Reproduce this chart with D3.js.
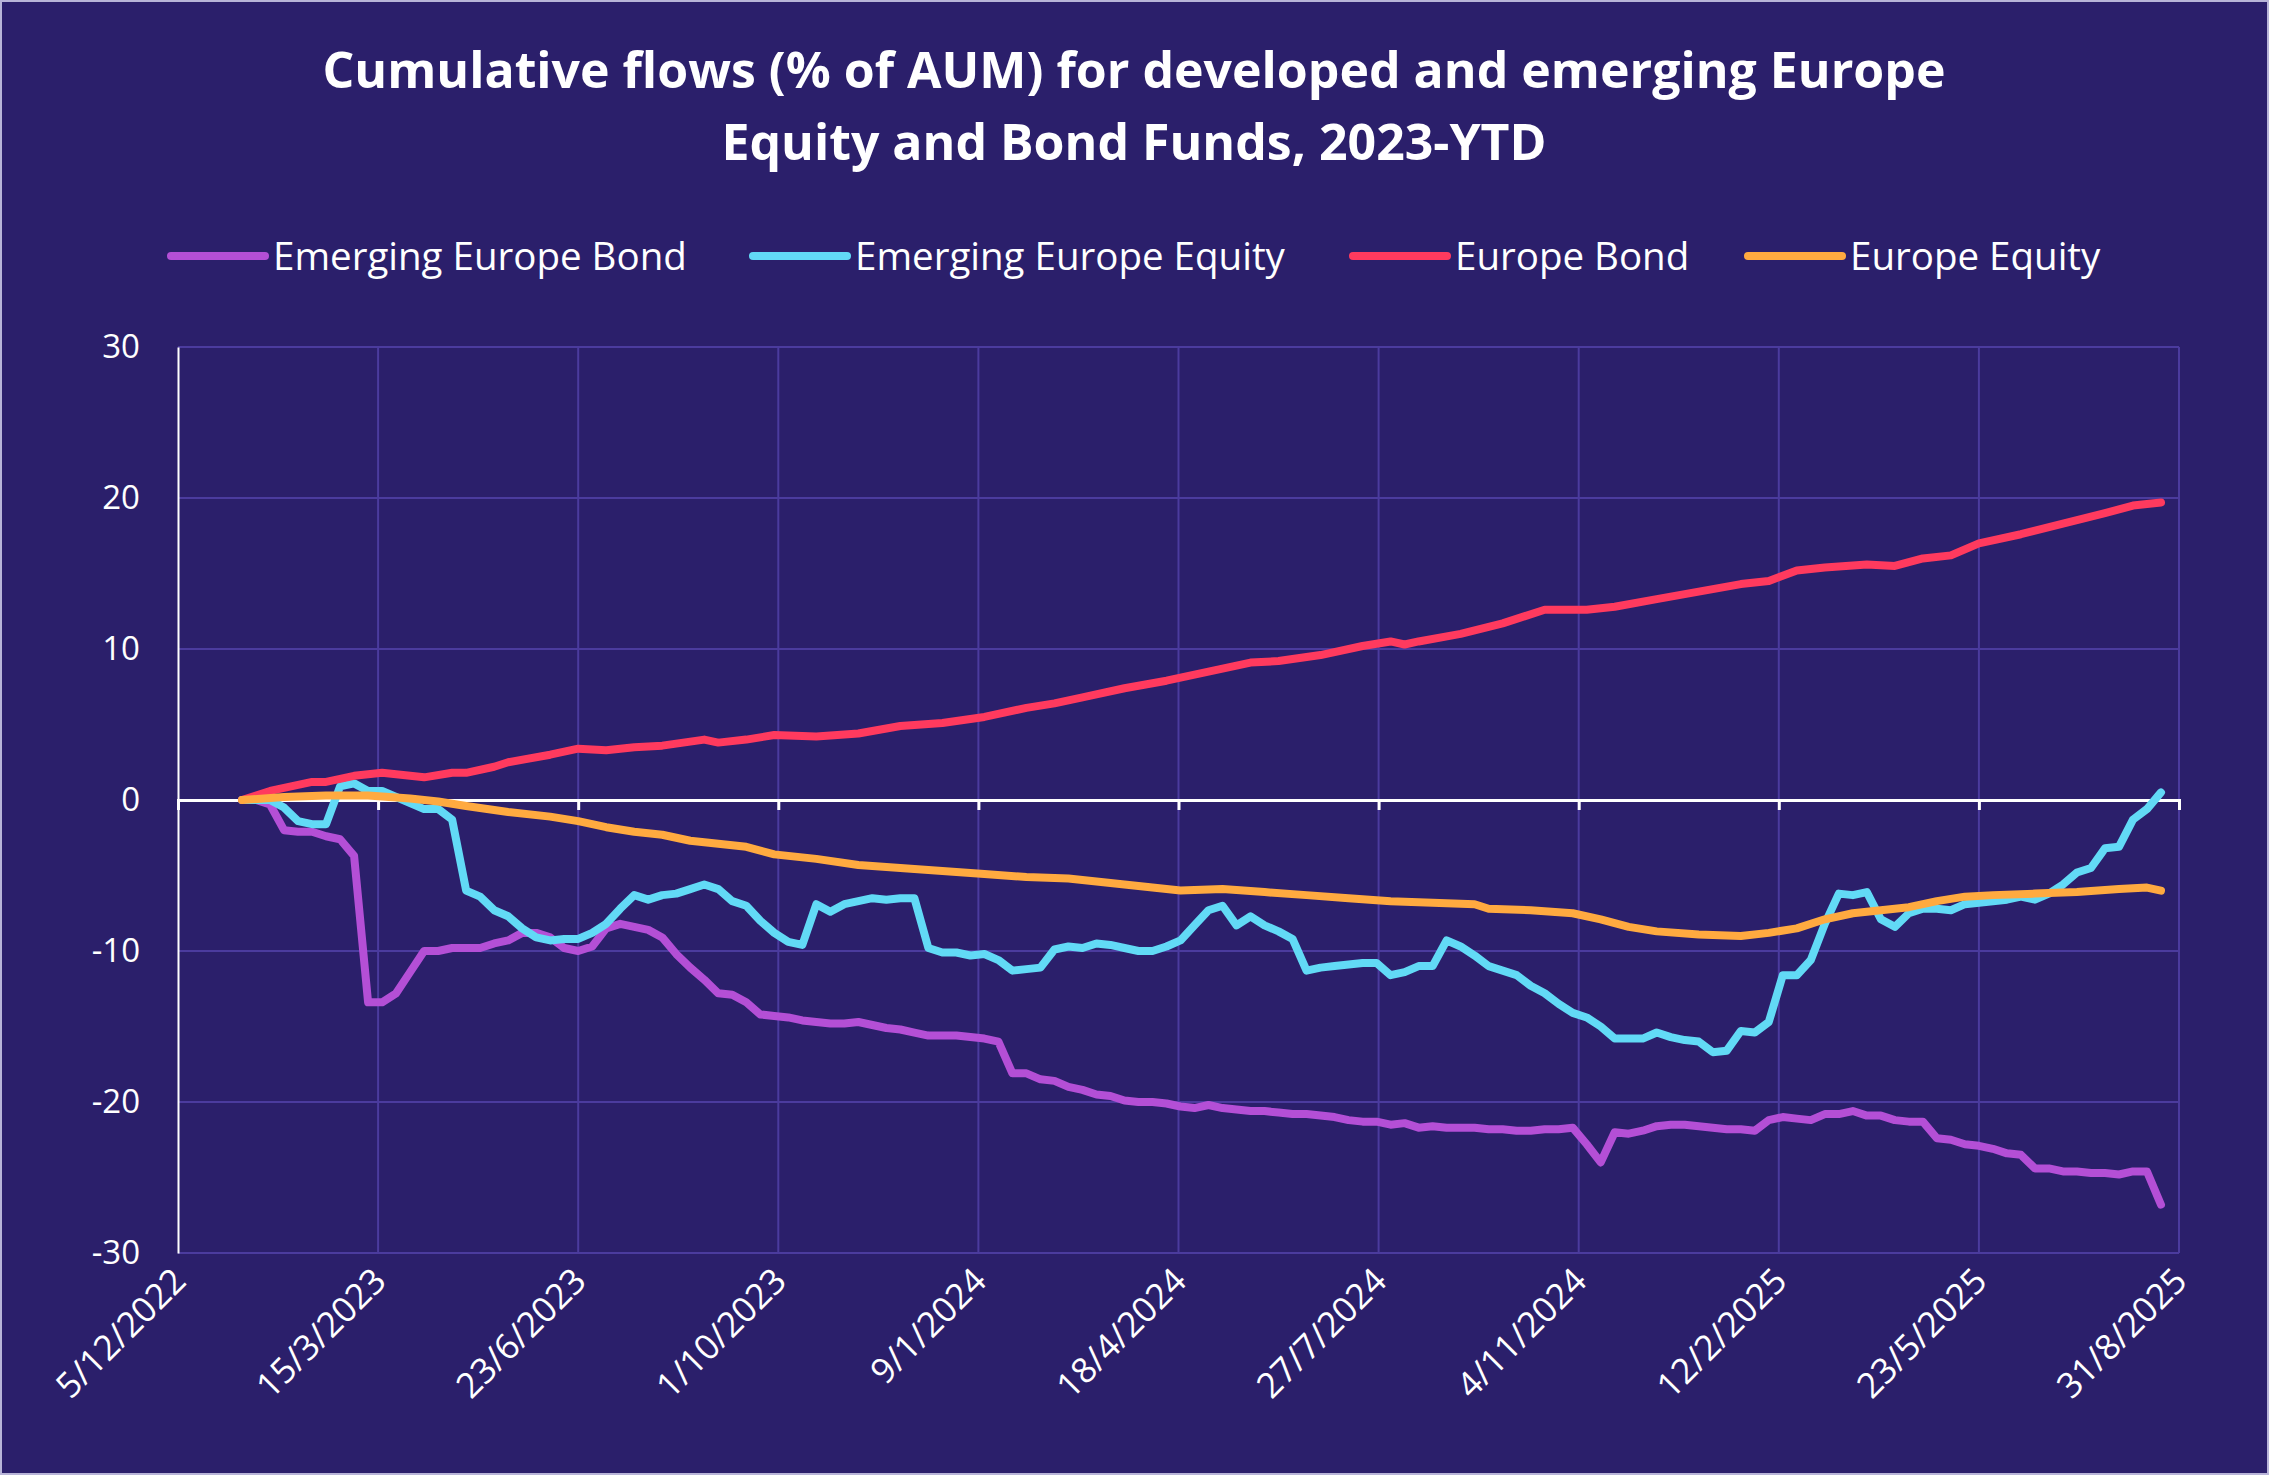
<!DOCTYPE html>
<html><head><meta charset="utf-8">
<script src="https://cdn.jsdelivr.net/npm/d3@7"></script>
<style>html,body{margin:0;padding:0;background:#2b1f6b;}svg{display:block}</style>
</head><body>
<svg id="c" width="2269" height="1475"></svg>
<script>
const seriesNames = ["Emerging Europe Bond","Emerging Europe Equity","Europe Bond","Europe Equity"];
const seriesColors = ["#b44fd6","#62daf6","#ff3a5e","#ffaa40"];
const startDate = "2023-01-06";
const xTickLabels = ["5/12/2022","15/3/2023","23/6/2023","1/10/2023","9/1/2024","18/4/2024","27/7/2024","4/11/2024","12/2/2025","23/5/2025","31/8/2025"];
const yTicks = [-30,-20,-10,0,10,20,30];

// weekly values
const emBond = [0,0,-0.3,-2,-2.1,-2.1,-2.4,-2.6,-3.7,-13.4,-13.4,-12.8,-11.4,-10,-10,-9.8,-9.8,-9.8,-9.5,-9.3,-8.8,-8.8,-9.1,-9.8,-10,-9.7,-8.5,-8.2,-8.4,-8.6,-9.1,-10.2,-11.1,-11.9,-12.8,-12.9,-13.4,-14.2,-14.3,-14.4,-14.6,-14.7,-14.8,-14.8,-14.7,-14.9,-15.1,-15.2,-15.4,-15.6,-15.6,-15.6,-15.7,-15.8,-16,-18.1,-18.1,-18.5,-18.6,-19,-19.2,-19.5,-19.6,-19.9,-20,-20,-20.1,-20.3,-20.4,-20.2,-20.4,-20.5,-20.6,-20.6,-20.7,-20.8,-20.8,-20.9,-21,-21.2,-21.3,-21.3,-21.5,-21.4,-21.7,-21.6,-21.7,-21.7,-21.7,-21.8,-21.8,-21.9,-21.9,-21.8,-21.8,-21.7,-22.8,-24,-22.0,-22.1,-21.9,-21.6,-21.5,-21.5,-21.6,-21.7,-21.8,-21.8,-21.9,-21.2,-21.0,-21.1,-21.2,-20.8,-20.8,-20.6,-20.9,-20.9,-21.2,-21.3,-21.3,-22.4,-22.5,-22.8,-22.9,-23.1,-23.4,-23.5,-24.4,-24.4,-24.6,-24.6,-24.7,-24.7,-24.8,-24.6,-24.6,-26.8];
const emEquity = [0,0,0,-0.5,-1.4,-1.6,-1.6,0.9,1.1,0.6,0.6,0.2,-0.2,-0.6,-0.6,-1.3,-6,-6.4,-7.3,-7.7,-8.5,-9.1,-9.3,-9.2,-9.2,-8.8,-8.2,-7.2,-6.3,-6.6,-6.3,-6.2,-5.9,-5.6,-5.9,-6.7,-7,-8,-8.8,-9.4,-9.6,-6.9,-7.4,-6.9,-6.7,-6.5,-6.6,-6.5,-6.5,-9.8,-10.1,-10.1,-10.3,-10.2,-10.6,-11.3,-11.2,-11.1,-9.9,-9.7,-9.8,-9.5,-9.6,-9.8,-10,-10,-9.7,-9.3,-8.3,-7.3,-7,-8.3,-7.7,-8.3,-8.7,-9.2,-11.3,-11.1,-11,-10.9,-10.8,-10.8,-11.6,-11.4,-11,-11,-9.3,-9.7,-10.3,-11,-11.3,-11.6,-12.3,-12.8,-13.5,-14.1,-14.4,-15,-15.8,-15.8,-15.8,-15.4,-15.7,-15.9,-16,-16.7,-16.6,-15.3,-15.4,-14.7,-11.6,-11.6,-10.6,-8.2,-6.2,-6.3,-6.1,-7.9,-8.4,-7.5,-7.2,-7.2,-7.3,-6.9,-6.8,-6.7,-6.6,-6.4,-6.6,-6.2,-5.6,-4.8,-4.5,-3.2,-3.1,-1.3,-0.6,0.5];
// [week index, value]
const euBond = [[0,0],[1,0.3],[2,0.6],[3,0.8],[4,1.0],[5,1.2],[6,1.2],[7,1.4],[8,1.6],[10,1.8],[12,1.6],[13,1.5],[15,1.8],[16,1.8],[18,2.2],[19,2.5],[22,3.0],[24,3.4],[26,3.3],[28,3.5],[30,3.6],[33,4.0],[34,3.8],[36,4.0],[38,4.3],[41,4.2],[44,4.4],[47,4.9],[50,5.1],[53,5.5],[56,6.1],[58,6.4],[60,6.8],[63,7.4],[66,7.9],[69,8.5],[72,9.1],[74,9.2],[77,9.6],[80,10.2],[82,10.5],[83,10.3],[84,10.5],[87,11.0],[90,11.7],[93,12.6],[96,12.6],[98,12.8],[101,13.3],[104,13.8],[107,14.3],[109,14.5],[111,15.2],[113,15.4],[116,15.6],[118,15.5],[120,16.0],[122,16.2],[124,17.0],[127,17.6],[130,18.3],[133,19.0],[135,19.5],[137,19.7]];
const euEquity = [[0,0],[3,0.2],[6,0.3],[9,0.3],[12,0.1],[14,-0.1],[16,-0.4],[19,-0.8],[22,-1.1],[24,-1.4],[26,-1.8],[28,-2.1],[30,-2.3],[32,-2.7],[34,-2.9],[36,-3.1],[38,-3.6],[41,-3.9],[44,-4.3],[47,-4.5],[50,-4.7],[53,-4.9],[56,-5.1],[59,-5.2],[62,-5.5],[65,-5.8],[67,-6.0],[70,-5.9],[73,-6.1],[76,-6.3],[79,-6.5],[82,-6.7],[85,-6.8],[88,-6.9],[89,-7.2],[92,-7.3],[95,-7.5],[97,-7.9],[99,-8.4],[101,-8.7],[104,-8.9],[107,-9.0],[109,-8.8],[111,-8.5],[113,-7.9],[115,-7.5],[117,-7.3],[119,-7.1],[121,-6.7],[123,-6.4],[125,-6.3],[128,-6.2],[131,-6.1],[134,-5.9],[136,-5.8],[137,-6.0]];

const parse = d3.timeParse("%Y-%m-%d");
const fmtIn = d3.timeParse("%d/%m/%Y");
const t0 = parse(startDate);
const wk = i => d3.timeDay.offset(t0, i*7);
const data = [
  emBond.map((v,i)=>[wk(i),v]),
  emEquity.map((v,i)=>[wk(i),v]),
  euBond.map(([i,v])=>[wk(i),v]),
  euEquity.map(([i,v])=>[wk(i),v])
];

const svg = d3.select("#c");
const W=2269,H=1475, L=178, R=2179, T=347, B=1253;
const font = "'Open Sans', sans-serif";
svg.append("rect").attr("x",1).attr("y",1).attr("width",W-2).attr("height",H-2).attr("fill","#2b1f6b").attr("stroke","#b8b4d8").attr("stroke-width",2);

const tickDates = xTickLabels.map(s=>fmtIn(s));
const x = d3.scaleTime().domain([tickDates[0], tickDates[tickDates.length-1]]).range([L,R]);
const y = d3.scaleLinear().domain([-30,30]).range([B,T]);

svg.append("g").selectAll("line").data(yTicks).join("line")
  .attr("x1",L).attr("x2",R).attr("y1",d=>y(d)).attr("y2",d=>y(d))
  .attr("stroke","#4b3b9e").attr("stroke-width",2);
svg.append("g").selectAll("line").data(tickDates.slice(1)).join("line")
  .attr("x1",d=>x(d)).attr("x2",d=>x(d)).attr("y1",T).attr("y2",B)
  .attr("stroke","#4b3b9e").attr("stroke-width",2);

const ya = svg.append("g").attr("transform",`translate(${L},0)`)
  .call(d3.axisLeft(y).tickValues(yTicks).tickSize(0).tickPadding(38).tickFormat(d=>String(d)));
ya.select(".domain").attr("stroke","#ffffff").attr("stroke-width",2);
ya.selectAll("text").attr("fill","#fff").style("font-family",font).style("font-size","33px");

const xa = svg.append("g").attr("transform",`translate(0,${y(0)})`)
  .call(d3.axisBottom(x).tickValues(tickDates).tickSize(10).tickFormat(()=>""));
xa.select(".domain").attr("stroke","#fff").attr("stroke-width",3);
xa.selectAll("line").attr("stroke","#fff").attr("stroke-width",3);

svg.append("g").selectAll("text").data(tickDates).join("text")
  .attr("transform",d=>`translate(${x(d)+10},${B+30}) rotate(-45)`)
  .attr("text-anchor","end").attr("fill","#fff")
  .style("font-family",font).style("font-size","35px")
  .text((d,i)=>xTickLabels[i]);

const line = d3.line().x(d=>x(d[0])).y(d=>y(d[1]));
svg.append("g").selectAll("path").data(data).join("path")
  .attr("d",line).attr("fill","none")
  .attr("stroke",(d,i)=>seriesColors[i]).attr("stroke-width",8)
  .attr("stroke-linejoin","round").attr("stroke-linecap","round");

svg.append("text").attr("x",1134).attr("y",88).attr("text-anchor","middle")
  .attr("fill","#fff").style("font-family",font).style("font-weight","bold").style("font-size","50px")
  .text("Cumulative flows (% of AUM) for developed and emerging Europe");
svg.append("text").attr("x",1134).attr("y",160).attr("text-anchor","middle")
  .attr("fill","#fff").style("font-family",font).style("font-weight","bold").style("font-size","50px")
  .text("Equity and Bond Funds, 2023-YTD");

const legX = [171,753,1353,1748];
const lg = svg.append("g").selectAll("g").data(seriesNames).join("g")
  .attr("transform",(d,i)=>`translate(${legX[i]},256)`);
lg.append("line").attr("x1",0).attr("x2",94).attr("y1",0).attr("y2",0)
  .attr("stroke",(d,i)=>seriesColors[i]).attr("stroke-width",8).attr("stroke-linecap","round");
lg.append("text").attr("x",102).attr("y",14).attr("fill","#fff")
  .style("font-family",font).style("font-size","38.5px").text(d=>d);
</script>
</body></html>
